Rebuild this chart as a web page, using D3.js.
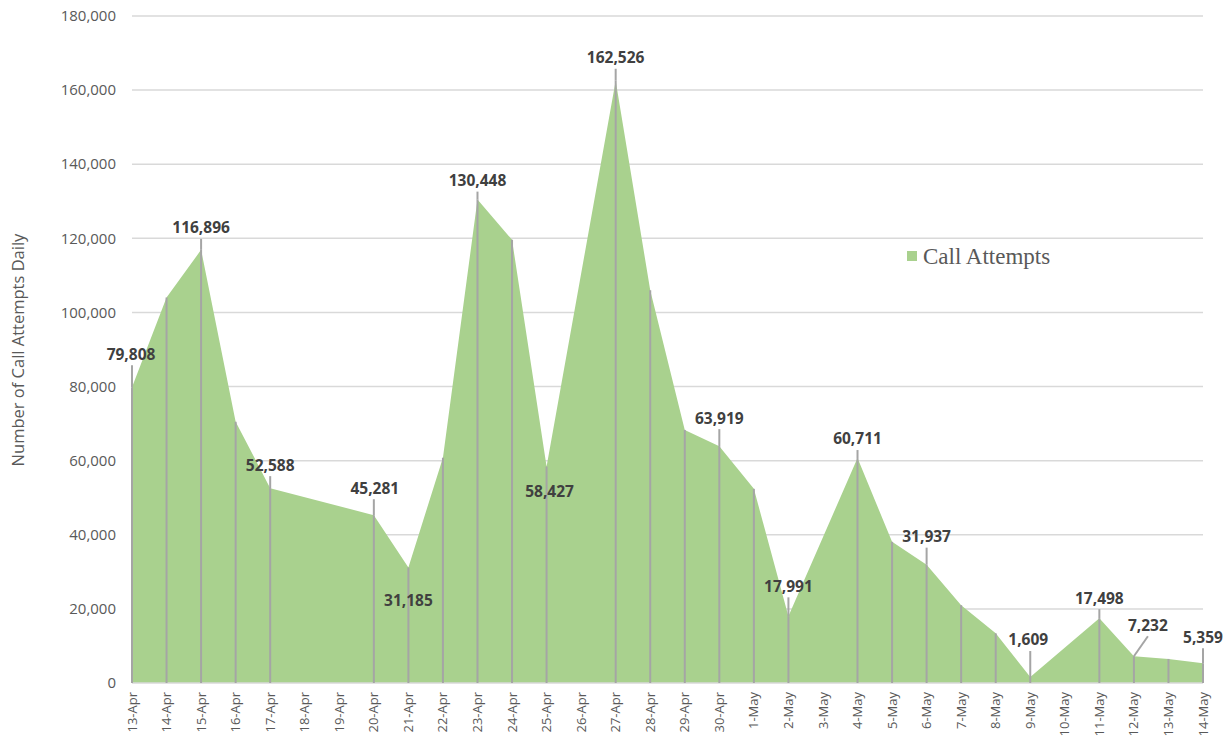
<!DOCTYPE html>
<html>
<head>
<meta charset="utf-8">
<script src="https://cdn.jsdelivr.net/npm/d3@7"></script>
<style>
  body { margin: 0; background: #fff; }
  text { font-family: 'Open Sans', 'Noto Sans', sans-serif; }
</style>
</head>
<body>
<div id="chart"></div>
<script>
// categories (every day on the axis) and the days that have a value
const dates = ['13-Apr','14-Apr','15-Apr','16-Apr','17-Apr','18-Apr','19-Apr','20-Apr','21-Apr','22-Apr',
  '23-Apr','24-Apr','25-Apr','26-Apr','27-Apr','28-Apr','29-Apr','30-Apr','1-May','2-May','3-May',
  '4-May','5-May','6-May','7-May','8-May','9-May','10-May','11-May','12-May','13-May','14-May'];

const callAttempts = [79808, 104000, 116896, 70500, 52588, null, null, 45281, 31185, 60800,
  130448, 119600, 58427, null, 162526, 106000, 68300, 63919, 52400, 17991, null,
  60711, 38100, 31937, 21000, 13400, 1609, null, 17498, 7232, 6500, 5359];

const labelledDates = ['13-Apr','15-Apr','17-Apr','20-Apr','21-Apr','23-Apr','25-Apr','27-Apr','30-Apr',
  '2-May','4-May','6-May','9-May','11-May','12-May','14-May'];

const yTicks = [0, 20000, 40000, 60000, 80000, 100000, 120000, 140000, 160000, 180000];

// label placement relative to the point [dx, dy]
const labelOffset = {
  '13-Apr': [-1, -33], '15-Apr': [0, -22], '17-Apr': [0, -23], '20-Apr': [1, -27],
  '21-Apr': [0, 33], '23-Apr': [0, -19], '25-Apr': [3, 25], '27-Apr': [0, -23],
  '30-Apr': [0, -28], '2-May': [0, -30], '4-May': [0, -19], '6-May': [0, -28],
  '9-May': [-2, -37], '11-May': [0, -20], '12-May': [14, -31], '14-May': [0, -26]
};

const W = 1229, H = 752;
const margin = { left: 132, top: 16, right: 26, bottom: 69 };

const svg = d3.select('#chart').append('svg')
  .attr('width', W).attr('height', H);

const x = d3.scalePoint().domain(dates).range([margin.left, W - margin.right]);
const y = d3.scaleLinear().domain([0, 180000]).range([H - margin.bottom, margin.top]);

const data = dates.map((d, i) => ({ date: d, value: callAttempts[i] }))
  .filter(d => d.value !== null);

// gridlines
svg.append('g').selectAll('line')
  .data(yTicks.filter(t => t > 0))
  .join('line')
    .attr('x1', x.range()[0]).attr('x2', x.range()[1])
    .attr('y1', d => y(d)).attr('y2', d => y(d))
    .attr('stroke', '#d9d9d9').attr('stroke-width', 1.5);

// area
const area = d3.area()
  .x(d => x(d.date))
  .y0(y(0))
  .y1(d => y(d.value));

svg.append('path')
  .datum(data)
  .attr('d', area)
  .attr('fill', '#a9d18e');

// baseline
svg.append('line')
  .attr('x1', x.range()[0]).attr('x2', x.range()[1])
  .attr('y1', y(0)).attr('y2', y(0))
  .attr('stroke', '#d9d9d9').attr('stroke-width', 1.5);

// drop lines
svg.append('g').selectAll('line')
  .data(data)
  .join('line')
    .attr('x1', d => x(d.date)).attr('x2', d => x(d.date))
    .attr('y1', y(0)).attr('y2', d => y(d.value))
    .attr('stroke', '#a5a5a5').attr('stroke-width', 2);

// data labels with leader lines
const labelled = data.filter(d => labelledDates.includes(d.date));
const fmt = d3.format(',');

svg.append('g').selectAll('line')
  .data(labelled.filter(d => labelOffset[d.date][1] < 0))
  .join('line')
    .attr('x1', d => x(d.date))
    .attr('y1', d => y(d.value))
    .attr('x2', d => x(d.date) + labelOffset[d.date][0] * (d.date === '12-May' ? 1 : 0))
    .attr('y2', d => y(d.value) + labelOffset[d.date][1] + 11)
    .attr('stroke', '#a5a5a5').attr('stroke-width', 2);

svg.append('g').selectAll('text')
  .data(labelled)
  .join('text')
    .attr('x', d => x(d.date) + labelOffset[d.date][0])
    .attr('y', d => y(d.value) + labelOffset[d.date][1])
    .attr('dy', '0.35em')
    .attr('text-anchor', 'middle')
    .style('font-size', '15.5px')
    .style('font-weight', 700)
    .style('fill', '#404040')
    .text(d => fmt(d.value));

// y axis labels
svg.append('g').selectAll('text')
  .data(yTicks)
  .join('text')
    .attr('x', margin.left - 16)
    .attr('y', d => y(d))
    .attr('dy', '0.35em')
    .attr('text-anchor', 'end')
    .style('font-size', '15px')
    .style('fill', '#595959')
    .text(d => fmt(d));

// x axis labels
svg.append('g').selectAll('text')
  .data(dates)
  .join('text')
    .attr('transform', d => `translate(${x(d)}, ${y(0) + 9}) rotate(-90)`)
    .attr('dy', '0.35em')
    .attr('text-anchor', 'end')
    .style('font-size', '13px')
    .style('fill', '#595959')
    .text(d => d);

// y axis title
svg.append('text')
  .attr('transform', `translate(${18}, ${350}) rotate(-90)`)
  .attr('text-anchor', 'middle')
  .attr('dy', '0.35em')
  .style('font-size', '16.5px')
  .style('fill', '#595959')
  .text('Number of Call Attempts Daily');

// legend
const legend = svg.append('g').attr('transform', 'translate(907, 256)');
legend.append('rect')
  .attr('x', 0).attr('y', -5)
  .attr('width', 10).attr('height', 10)
  .attr('fill', '#a9d18e');
legend.append('text')
  .attr('x', 16).attr('y', 0)
  .attr('dy', '0.35em')
  .style('font-family', "'Liberation Serif', serif")
  .style('font-size', '23px')
  .style('fill', '#595959')
  .text('Call Attempts');
</script>
</body>
</html>
